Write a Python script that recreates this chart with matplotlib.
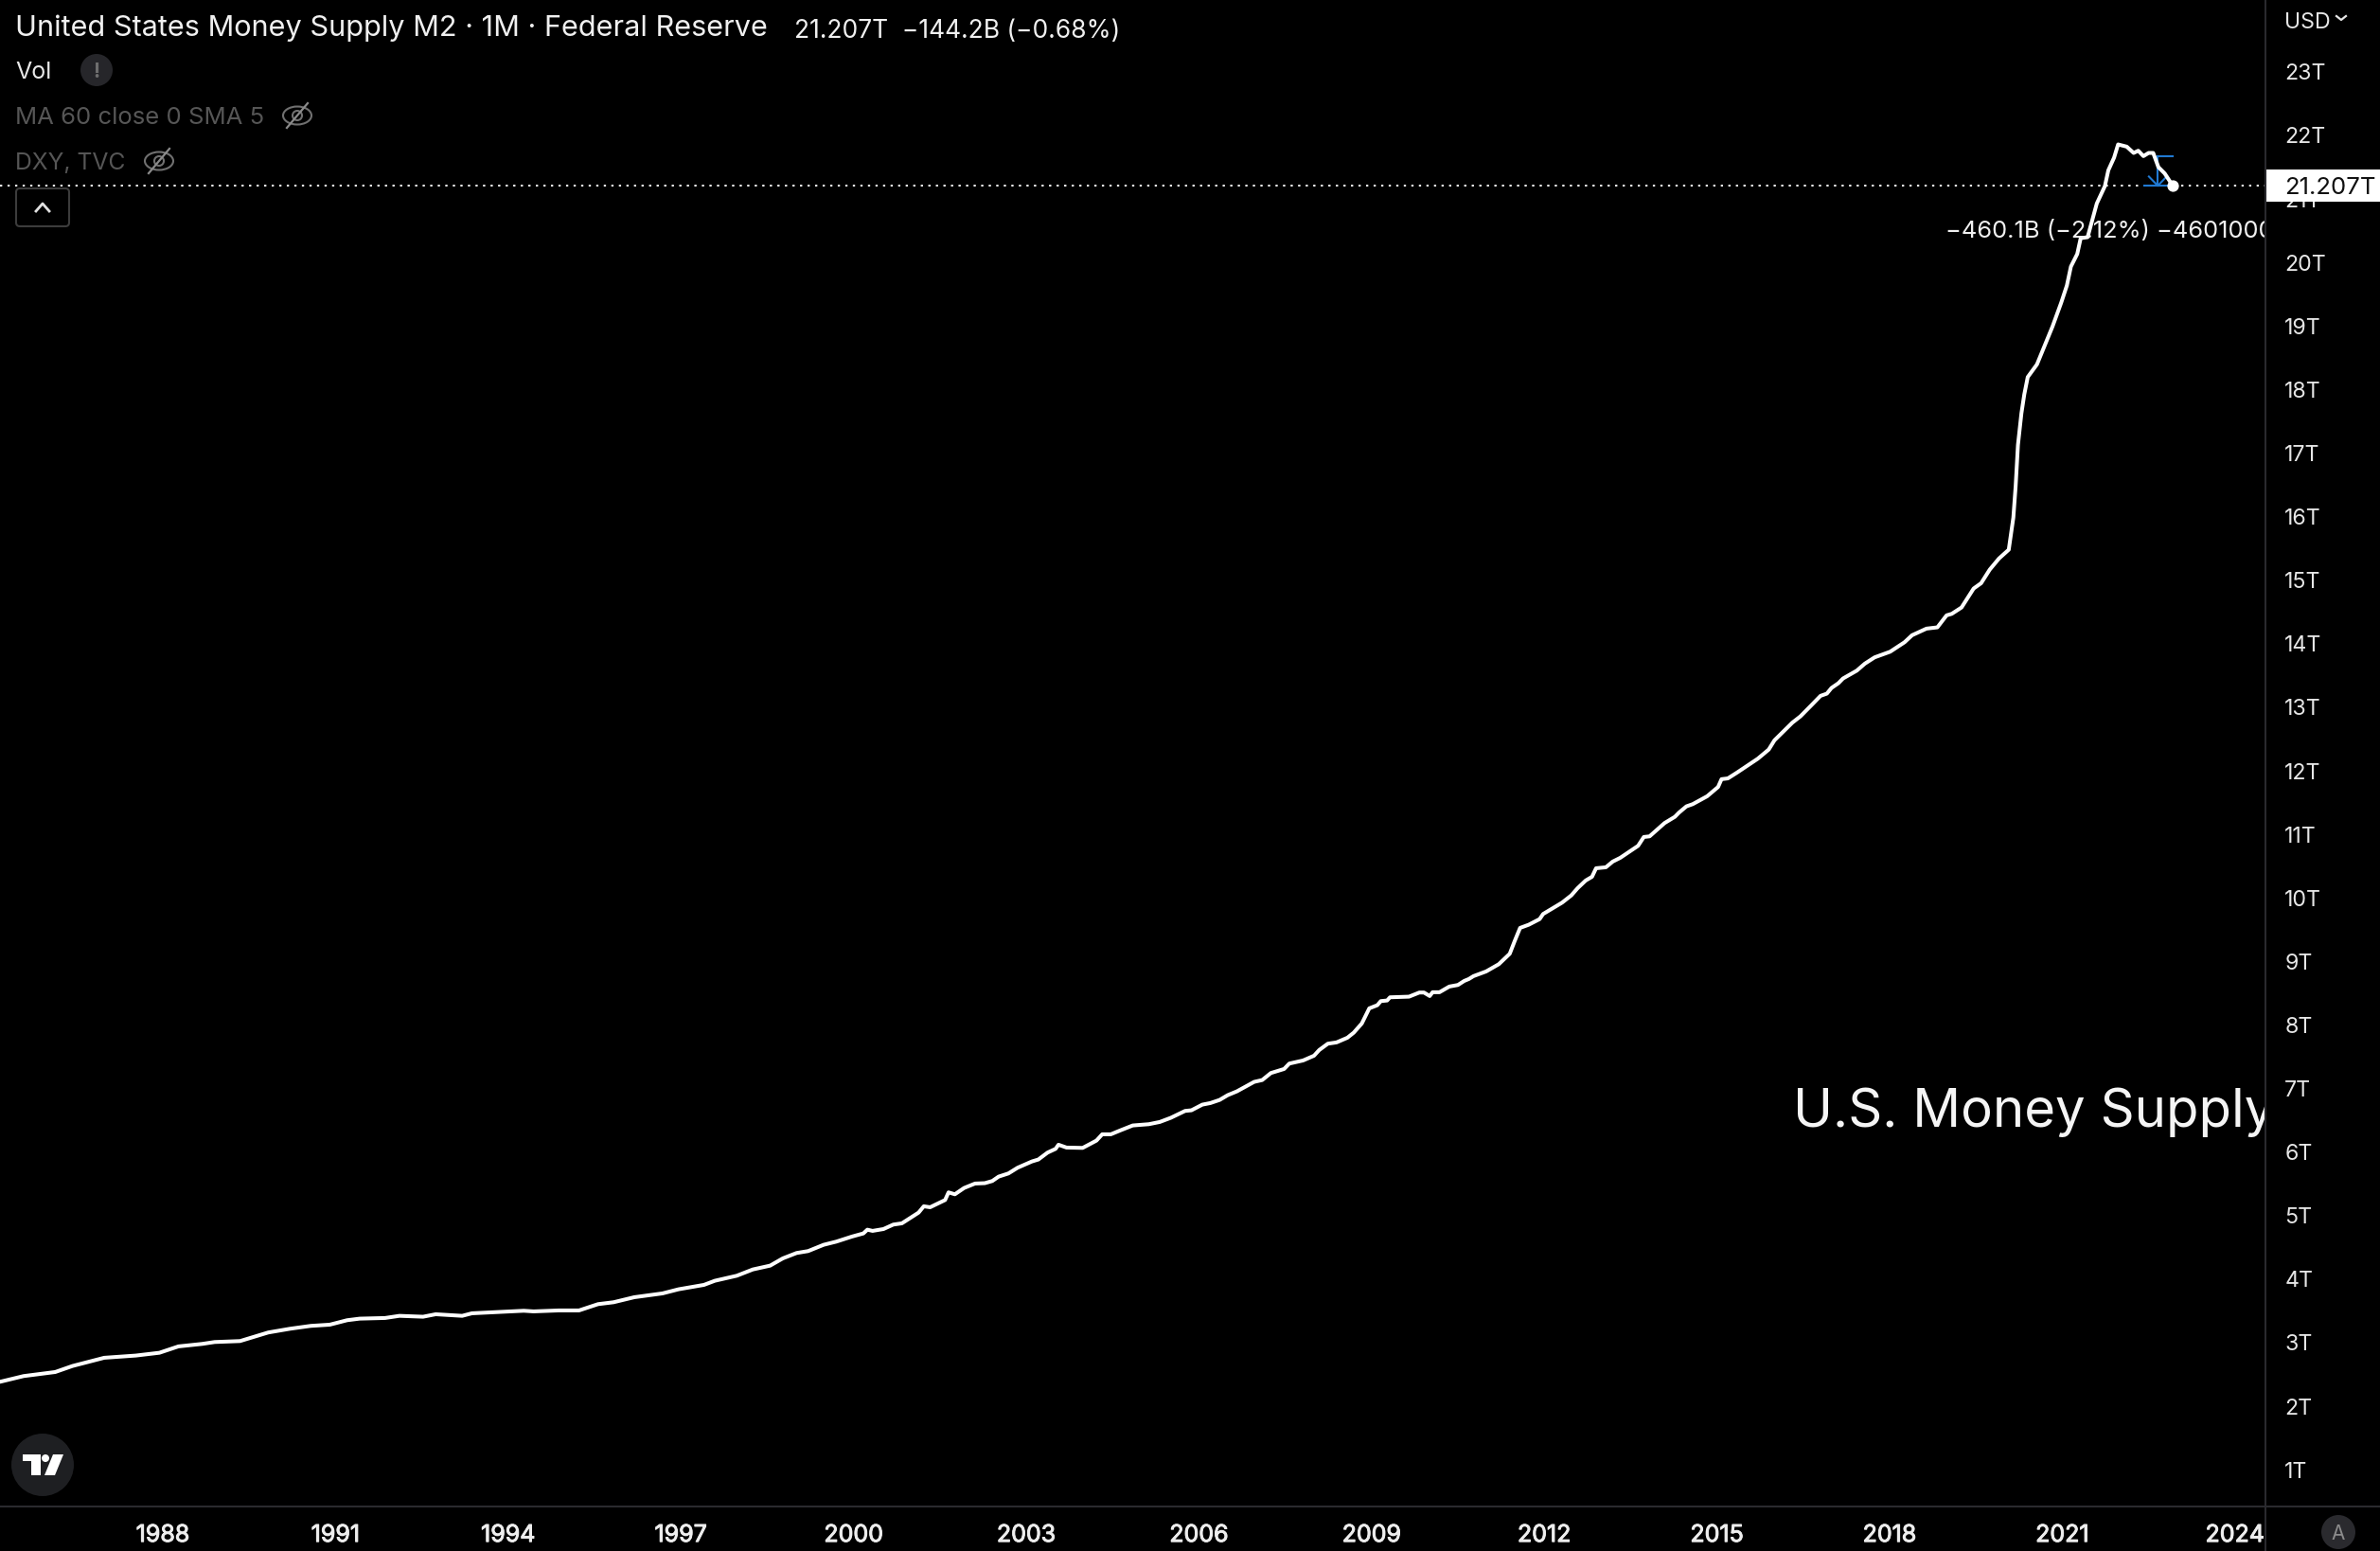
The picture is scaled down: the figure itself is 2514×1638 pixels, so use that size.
import matplotlib
matplotlib.use("Agg")
from matplotlib import pyplot as plt
from matplotlib import patheffects as pe
from matplotlib.patches import Circle, Ellipse, FancyBboxPatch, Polygon, Rectangle

plt.rcParams['font.family'] = ['Inter', 'DejaVu Sans']

# M2: decimal year, trillions of USD
years = [1985.17, 1985.58, 1986.13, 1986.43, 1986.98, 1987.53, 1987.94, 1988.27, 1988.68, 1988.90,
         1989.34, 1989.83, 1990.21, 1990.57, 1990.90, 1991.20, 1991.42, 1991.86, 1992.11, 1992.52,
         1992.74, 1993.20, 1993.37, 1993.72, 1994.27, 1994.44, 1994.88, 1995.23, 1995.56, 1995.83,
         1996.19, 1996.68, 1996.96, 1997.40, 1997.59, 1997.97, 1998.25, 1998.55, 1998.77, 1999.01,
         1999.21, 1999.48, 1999.70, 1999.97, 2000.17, 2000.24, 2000.33, 2000.52, 2000.69, 2000.84,
         2001.13, 2001.22, 2001.33, 2001.59, 2001.65, 2001.76, 2001.92, 2002.11, 2002.28, 2002.41,
         2002.52, 2002.69, 2002.85, 2003.10, 2003.21, 2003.37, 2003.51, 2003.56, 2003.70, 2003.98,
         2004.22, 2004.32, 2004.47, 2004.63, 2004.85, 2005.13, 2005.32, 2005.51, 2005.76, 2005.87,
         2006.06, 2006.20, 2006.36, 2006.50, 2006.66, 2006.96, 2007.10, 2007.25, 2007.48, 2007.57,
         2007.81, 2008.00, 2008.09, 2008.24, 2008.39, 2008.58, 2008.69, 2008.83, 2008.96, 2009.10,
         2009.16, 2009.27, 2009.32, 2009.65, 2009.83, 2009.91, 2010.01, 2010.06, 2010.18, 2010.35,
         2010.50, 2010.61, 2010.69, 2010.77, 2010.99, 2011.21, 2011.40, 2011.49, 2011.58, 2011.73,
         2011.92, 2011.98, 2012.31, 2012.47, 2012.58, 2012.72, 2012.83, 2012.90, 2013.07, 2013.19,
         2013.32, 2013.63, 2013.73, 2013.83, 2014.09, 2014.27, 2014.34, 2014.47, 2014.58, 2014.83,
         2015.02, 2015.08, 2015.19, 2015.35, 2015.71, 2015.90, 2016.00, 2016.31, 2016.45, 2016.64,
         2016.80, 2016.91, 2016.99, 2017.11, 2017.19, 2017.43, 2017.57, 2017.74, 2018.01, 2018.26,
         2018.39, 2018.64, 2018.83, 2018.99, 2019.08, 2019.25, 2019.46, 2019.59, 2019.74, 2019.90,
         2020.07, 2020.15, 2020.19, 2020.23, 2020.29, 2020.34, 2020.40, 2020.56, 2020.83, 2020.98,
         2021.08, 2021.15, 2021.26, 2021.32, 2021.44, 2021.60, 2021.74, 2021.80, 2021.90, 2021.97,
         2022.12, 2022.24, 2022.32, 2022.41, 2022.50, 2022.58, 2022.67, 2022.78, 2022.92]
m2 = [2.384, 2.474, 2.538, 2.633, 2.762, 2.797, 2.841, 2.941, 2.980, 3.010,
      3.025, 3.160, 3.219, 3.264, 3.283, 3.353, 3.378, 3.388, 3.422, 3.408,
      3.447, 3.422, 3.462, 3.477, 3.502, 3.492, 3.507, 3.507, 3.606, 3.636,
      3.715, 3.775, 3.840, 3.909, 3.974, 4.053, 4.152, 4.212, 4.326, 4.411,
      4.441, 4.540, 4.590, 4.669, 4.719, 4.778, 4.759, 4.788, 4.858, 4.878,
      5.047, 5.146, 5.131, 5.245, 5.365, 5.335, 5.434, 5.504, 5.510, 5.544,
      5.613, 5.663, 5.753, 5.852, 5.882, 5.991, 6.050, 6.115, 6.070, 6.065,
      6.180, 6.279, 6.279, 6.339, 6.418, 6.438, 6.473, 6.538, 6.647, 6.657,
      6.746, 6.771, 6.820, 6.895, 6.955, 7.104, 7.133, 7.243, 7.307, 7.392,
      7.441, 7.516, 7.605, 7.705, 7.725, 7.799, 7.879, 8.023, 8.261, 8.311,
      8.375, 8.385, 8.435, 8.445, 8.510, 8.510, 8.455, 8.515, 8.515, 8.604,
      8.629, 8.693, 8.723, 8.768, 8.842, 8.956, 9.120, 9.329, 9.527, 9.577,
      9.666, 9.746, 9.925, 10.039, 10.153, 10.273, 10.332, 10.466, 10.481, 10.571,
      10.630, 10.819, 10.958, 10.968, 11.177, 11.276, 11.341, 11.440, 11.475, 11.599,
      11.745, 11.868, 11.880, 11.972, 12.190, 12.334, 12.480, 12.757, 12.856, 13.030,
      13.179, 13.214, 13.303, 13.378, 13.452, 13.576, 13.686, 13.785, 13.874, 14.023,
      14.133, 14.237, 14.257, 14.446, 14.470, 14.570, 14.868, 14.952, 15.166, 15.340,
      15.479, 15.985, 16.482, 17.128, 17.625, 17.923, 18.196, 18.395, 18.991, 19.363,
      19.637, 19.935, 20.133, 20.382, 20.397, 20.928, 21.200, 21.450, 21.649, 21.857,
      21.822, 21.723, 21.758, 21.673, 21.723, 21.723, 21.500, 21.400, 21.207]

last_price = 21.207
range_top = 21.667
range_years = [2022.42, 2022.66, 2022.92]

x_ticks = [1988, 1991, 1994, 1997, 2000, 2003, 2006, 2009, 2012, 2015, 2018, 2021, 2024]
y_ticks = list(range(1, 24))

W, H = 2514, 1638
AXIS_X, AXIS_Y = 2393, 1590.7
GRID = '#2a2a2e'
BLUE = '#2079d2'
GRAY = '#565656'

fig = plt.figure(figsize=(W / 100, H / 100), dpi=100, facecolor='black')
ax = fig.add_axes([0, 1 - AXIS_Y / H, AXIS_X / W, AXIS_Y / H], facecolor='black')
ax.set_xlim(1985.17, 2024.53)
ax.set_ylim(0.426, 24.13)

# main series
ax.plot(years, m2, color='white', lw=2.9, solid_joinstyle='round', solid_capstyle='round', zorder=5)
ax.plot(years[-1], m2[-1], 'o', color='white', ms=8.8, mew=0, zorder=6)
ax.axhline(last_price, color='white', lw=1.4, ls=(0, (1.2, 2.9)), zorder=3)

# price range tool
ax.plot([range_years[1], range_years[2]], [range_top, range_top], color=BLUE, lw=1.5, zorder=4)
ax.plot([range_years[0], range_years[2]], [last_price, last_price], color=BLUE, lw=1.5, zorder=4)
ax.plot([range_years[1], range_years[1]], [range_top, last_price], color=BLUE, lw=1.5, zorder=4)
ax.plot([range_years[1] - 0.155, range_years[1], range_years[1] + 0.155],
        [last_price + 0.145, last_price, last_price + 0.145], color=BLUE, lw=1.5, zorder=4)

ax.yaxis.tick_right()
ax.set_yticks(y_ticks)
ax.set_yticklabels(['%dT' % v for v in y_ticks], fontsize=16.7, color='#e6e6e6')
ax.set_xticks(x_ticks)
ax.set_xticklabels([str(v) for v in x_ticks], fontsize=18, color='#eeeeee',
                   path_effects=[pe.withStroke(linewidth=0.7, foreground='#eeeeee')])
ax.tick_params(axis='y', length=0, pad=14.5)
ax.tick_params(axis='x', length=0, pad=14)
for s in ax.spines.values():
    s.set_visible(False)

# overlay in pixel coordinates for the app chrome
ui = fig.add_axes([0, 0, 1, 1], facecolor='none', zorder=10)
ui.set_xlim(0, W)
ui.set_ylim(H, 0)
ui.axis('off')

ui.plot([AXIS_X, AXIS_X], [0, H], color=GRID, lw=1.5)
ui.plot([0, W], [AXIS_Y, AXIS_Y], color=GRID, lw=1.5)

ui.text(16, 27, 'United States Money Supply M2 · 1M · Federal Reserve', color='#f0f0f0', fontsize=22.1, va='center_baseline')
ui.text(839, 30, '21.207T  −144.2B (−0.68%)', color='#f0f0f0', fontsize=19, va='center_baseline')
ui.text(16, 74, 'Vol', color='#e8e8e8', fontsize=18, va='center_baseline')
ui.text(16, 122, 'MA 60 close 0 SMA 5', color=GRAY, fontsize=18.5, va='center_baseline')
ui.text(16, 170, 'DXY, TVC', color=GRAY, fontsize=17.8, va='center_baseline')

# warning badge next to Vol
ui.add_patch(Circle((102, 74), 17, color='#26262a', lw=0))
ui.text(102, 74, '!', color='#6e6e6e', fontsize=15, fontweight='bold', ha='center', va='center_baseline')

# hidden-eye icons
for ex, ey in [(314, 122), (168, 170)]:
    ui.add_patch(Ellipse((ex, ey), 30, 19, fill=False, ec='#707070', lw=1.5))
    ui.add_patch(Circle((ex, ey), 5, fill=False, ec='#707070', lw=1.5))
    ui.plot([ex - 11, ex + 11], [ey + 13, ey - 13], color='#8a8a8a', lw=1.6)

# collapse button
ui.add_patch(FancyBboxPatch((17, 199), 56, 40, boxstyle='round,pad=0,rounding_size=4',
                            fill=False, ec='#3c3c3c', lw=1.5))
ui.plot([38, 45, 52], [223, 215, 223], color='#e0e0e0', lw=2)

# range tool label and watermark, clipped at the price scale
ax.text(2055, 242, '−460.1B (−2.12%) −4601000', color='#f0f0f0', fontsize=18.3, va='center_baseline',
        transform=ui.transData, clip_on=True, zorder=7)
ax.text(1894, 1190, 'U.S. Money Supply', color='#f5f5f5', fontsize=40.5, va='baseline',
        transform=ui.transData, clip_on=True, zorder=2)

# last price tag, covers the 21T tick
ui.add_patch(Rectangle((AXIS_X - 1, 179), W - AXIS_X + 1, 34, color='white', lw=0))
ui.text(2413, 196, '21.207T', color='#111111', fontsize=18.5, va='center_baseline')

# currency selector
ui.text(2413, 21, 'USD', color='#e6e6e6', fontsize=16.7, va='center_baseline')
ui.plot([2468, 2473, 2478], [17, 21, 17], color='#e6e6e6', lw=1.6)

# auto-scale button
ui.add_patch(Circle((2470, 1618), 18, color='#2a2a2e', lw=0))
ui.text(2470, 1618, 'A', color='#8c8c8c', fontsize=15, ha='center', va='center_baseline')

# TradingView logo
ui.add_patch(Circle((45, 1547), 33, color='#1e1f22', lw=0))
ui.add_patch(Polygon([(24, 1536), (43, 1536), (43, 1558), (33, 1558), (33, 1543), (24, 1543)], color='white', lw=0))
ui.add_patch(Circle((48, 1540), 4, color='white', lw=0))
ui.add_patch(Polygon([(56, 1536), (67, 1536), (58, 1558), (47, 1558)], color='white', lw=0))

fig.savefig('out.png', dpi=100, facecolor='black')
